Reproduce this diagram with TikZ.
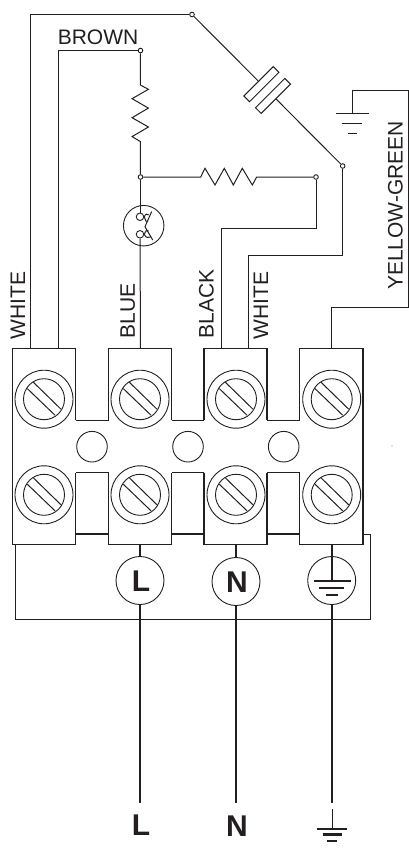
\documentclass[tikz,border=0pt]{standalone}
\usepackage{fontspec}
\setmainfont{Liberation Sans}
\usetikzlibrary{calc}
\definecolor{inkblack}{HTML}{231F20}
\tikzset{
    wire/.style={draw=inkblack, line width=1pt},
    mainwire/.style={draw=inkblack, line width=2.2pt},
    blockline/.style={draw=inkblack, line width=1.1pt, line join=miter},
    junction/.style={draw=inkblack, fill=white, circle, line width=0.9pt, inner sep=0pt, minimum size=4.6pt},
    ring/.style={draw=inkblack, circle, line width=0.9pt, inner sep=0pt},
    capplate/.style={draw=inkblack, fill=white, line width=1pt, rotate=45, minimum width=41.5pt, minimum height=8pt, inner sep=0pt},
    wirelabel/.style={text=inkblack, font=\fontsize{21}{21}\selectfont, inner sep=0pt},
    bigletter/.style={text=inkblack, font=\fontsize{30}{30}\selectfont\bfseries, inner sep=0pt}
}
\begin{document}
\begin{tikzpicture}[x=1pt,y=-1pt]
    \useasboundingbox (0,0) rectangle (409,849); % Same size as the scan
    % Outer frame behind the terminal strip
    \coordinate (frameA) at (15,544.7);
    \coordinate (frameB) at (370.7,534);
    \draw[wire] (frameA) |- (frameB |- 0,619.3) -- (frameB) -- ++(-8,0);
    % The strip: four blocks, open towards the middle, and the webs between them
    \foreach \n/\l/\r in {1/12.7/75.5,2/108.7/171.5,3/204/267,4/299.7/363}{
            \draw[blockline] (\l,420.3) -- (\l,348.5) -- (\r,348.5) -- (\r,420.3);
            \draw[blockline] (\l,472.7) -- (\l,544.7) -- (\r,544.7) -- (\r,472.7);
            \coordinate (block\n) at ($(\l,544.7)!0.5!(\r,544.7)$);
        }
    \draw[blockline] (12.7,420.3) -- (12.7,472.7);
    \draw[blockline] (363,420.3) -- (363,472.7);
    \foreach \l/\r in {75.5/108.7,171.5/204,267/299.7}{
            \draw[blockline] (\l,420.3) -- (\r,420.3);
            \draw[blockline] (\l,472.7) -- (\r,472.7);
            \draw[blockline] (\l,534) -- (\r,534);
        }
    \foreach \n/\x in {1/92,2/188,3/283.7}{
            \node[ring,minimum size=30.6pt] (hole\n) at (\x,446.7) {};
        }
    % Two screws on each block
    \foreach \n/\x in {1/44,2/140,3/236,4/331.7}{
            \foreach \m/\y in {a/399.2,b/494.8}{
                    \node[ring,minimum size=58pt] (screw\n\m) at (\x,\y) {};
                    \node[ring,minimum size=41pt] (head\n\m) at (\x,\y) {};
                    \draw[wire] (\x-10.7,\y-17) -- ++(27.7,27); % Slot of the screw
                    \draw[wire] (\x-16.7,\y-10.6) -- ++(27.7,26.6);
                }
        }

    % Junction points
    \node[junction] (jtop) at (192,14.5) {};
    \node[junction] (jbrown) at (140.5,50.5) {};
    \node[junction] (jmid) at (140.5,177) {};
    \node[junction] (jblack) at (316,177) {};
    \node[junction] (jwhite) at (342.7,166) {};
    % Where the wires enter the blocks
    \coordinate (termA) at (30.3,348.5);
    \coordinate (termB) at (58,348.5);
    \coordinate (termC) at (140.5,348.5);
    \coordinate (termD) at (221.5,348.5);
    \coordinate (termE) at (248,348.5);
    \coordinate (termF) at (331.7,348.5);
    \coordinate (earthtop) at (352,113.7);
    \coordinate (greenA) at (408.5,307.3);
    \coordinate (greenB) at (408.5,90.5);

    \draw[wire] (termA) |- (jtop);
    \draw[wire] (termB) |- (jbrown);
    \draw[wire] (termD) -- ++(0,-120.5) -| (jblack);
    \draw[wire] (termE) -- ++(0,-93.5) -| (jwhite);
    \draw[wire] (termF) |- (greenA) -- (greenB) -| (earthtop);

    % Capacitor
    \node[capplate] (capA) at (261.4,84.2) {};
    \node[capplate] (capB) at (273,95.9) {};
    \draw[wire] (jtop) -- (capA);
    \draw[wire] (capB) -- (jwhite);

    % Resistors
    \draw[wire,line join=miter] (jbrown) -- (140.4,85) -- ++(8,4.3) -- ++(-16.3,9.4) -- ++(16.3,9.4) -- ++(-16.3,9.6) -- ++(16.3,9.3) -- ++(-16.3,9.6) -- ++(8.2,4.9) -- (jmid);
    \draw[wire,line join=miter] (jmid) -- (200.7,177) -- (205,168.3) -- (215,185) -- (224.3,168.3) -- (233.3,185) -- (242.3,168.3) -- (252.3,185) -- (256.7,177) -- (jblack);

    % Lamp
    \node[ring,minimum size=40.5pt] (lamp) at (143.7,225.7) {};
    \draw[wire] (jmid) -- (140.5,213);
    \node[ring,minimum size=7.5pt] (glowA) at (140,216.8) {};
    \node[ring,minimum size=7.5pt] (glowB) at (140,234.3) {};
    \draw[wire] (glowB) -- (termC);
    \draw[wire] (151.7,211.5) -- (145,226.7) -- (152.7,240);
    \draw[wire] (glowA.east) .. controls (146,213) and (147,214) .. (148.7,215);
    \draw[wire] (glowA.east) .. controls (146,221) and (146,221) .. (146.5,222);
    \draw[wire] (glowB.east) .. controls (146,230) and (147,230) .. (148.5,231);
    \draw[wire] (glowB.east) .. controls (146,238) and (148,238) .. (150.5,237);

    % Small earth symbol
    \draw[wire] (336,113.7) -- (368.7,113.7);
    \draw[wire] (341.7,123.7) -- (362.3,123.7);
    \draw[wire] (347.7,133.7) -- (356.7,133.7);

    % Mains side
    \node[ring,minimum size=48pt] (circL) at (140,580.5) {};
    \node[ring,minimum size=48pt] (circN) at (236,581.5) {};
    \node[ring,minimum size=48pt] (circE) at (331.7,580.5) {};
    \node[bigletter] (letL) at (141,581) {L};
    \node[bigletter] (letN) at (237,582) {N};
    \coordinate (endL) at (140,802.7);
    \coordinate (endN) at (236,802.7);
    \coordinate (endE) at (331.7,802.7);
    \draw[mainwire] (block2 -| circL) -- (circL);
    \draw[mainwire] (block3 -| circN) -- (circN);
    \draw[mainwire] (block4 -| circE) -- (circE.center);
    \draw[mainwire] (circL) -- (endL);
    \draw[mainwire] (circN) -- (endN);
    \draw[mainwire] (circE) -- (endE);
    % Earth inside its circle
    \draw[mainwire] (314,580.7) -- (350.7,580.7);
    \draw[mainwire] (319.3,588) -- (344,588);
    \draw[mainwire] (326,595) -- (338.3,595);

    % Bottom legend
    \node[bigletter] (legL) at (141,825) {L};
    \node[bigletter] (legN) at (237,826) {N};
    \draw[wire] (332,809.3) -- (332,829.3);
    \draw[mainwire] (317.3,829.3) -- (347.3,829.3);
    \draw[mainwire] (322.7,834.5) -- (342,834.5);
    \draw[mainwire] (327.3,840.7) -- (337.3,840.7);

    % Wire colours
    \node[wirelabel] (lbrown) at (98,37.5) {BROWN};
    \node[wirelabel,rotate=90,anchor=west] (lwhiteA) at (17.8,339.5) {WHITE};
    \node[wirelabel,rotate=90,anchor=west] (lblue) at (127.8,338.5) {BLUE};
    \node[wirelabel,rotate=90,anchor=west] (lblack) at (206.5,338.5) {BLACK};
    \node[wirelabel,rotate=90,anchor=west] (lwhiteB) at (261,339.5) {WHITE};
    \node[wirelabel,rotate=90,anchor=west] (lgreen) at (395.5,290) {YELLOW-GREEN};

    \fill[gray] (392,446) circle (0.7pt); % Speck in the scan
\end{tikzpicture}
\end{document}
